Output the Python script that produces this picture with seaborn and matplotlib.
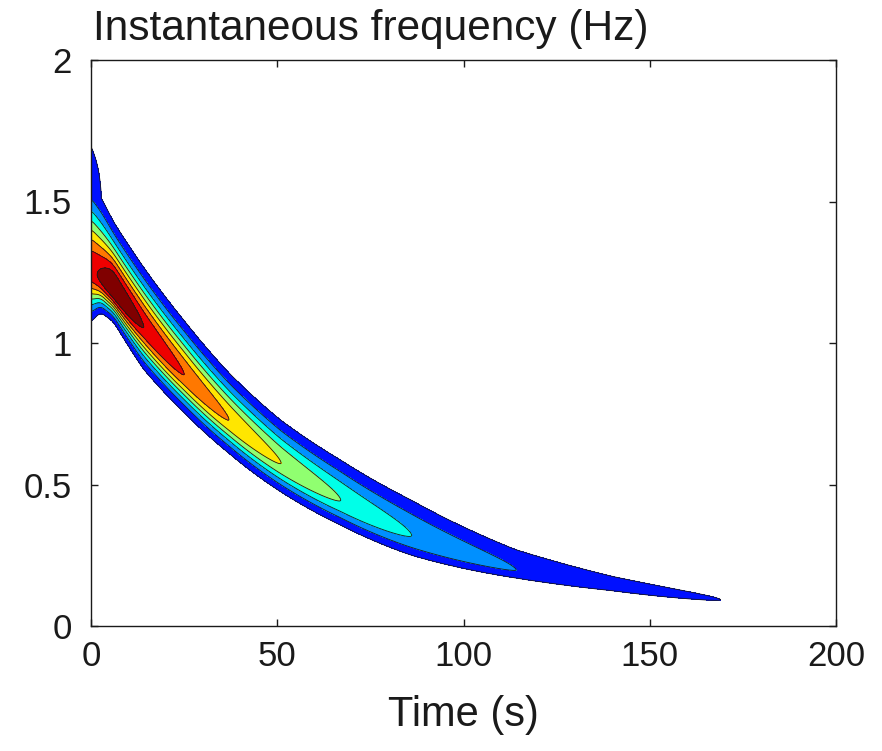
import numpy as np
import matplotlib
matplotlib.use("Agg")
import matplotlib.pyplot as plt
import seaborn as sns

# ridge of the time-frequency map
ridge_time = [0, 2.5, 6, 14, 25, 37, 51, 67, 86, 114, 140, 169, 200]
ridge_freq = [1.26, 1.23, 1.19, 1.06, 0.89, 0.73, 0.576, 0.445, 0.32, 0.198, 0.14, 0.092, 0.075]
ridge_amp = [7.7, 8.15, 9.4, 8.0, 7.0, 6.0, 5.0, 4.0, 3.0, 2.0, 1.5, 1.0, 0.5]
# gaussian spread (Hz) above / below the ridge
width_up = [0.153, 0.141, 0.113, 0.103, 0.096, 0.087, 0.084, 0.085, 0.084, 0.061, 0.039, 0.03, 0.03]
width_down = [0.092, 0.059, 0.054, 0.074, 0.069, 0.063, 0.057, 0.053, 0.047, 0.024, 0.017, 0.015, 0.015]

# small edge lobe at the start of the record
lobe_time = [0, 2.5, 5, 8]
lobe_amp = [1.6, 1.05, 0.6, 0.0]
lobe_freq = 1.5
lobe_width = 0.2

levels = [1, 2, 3, 4, 5, 6, 7, 8]
band_colors = ["#0010ff", "#0090ff", "#00ffe8", "#90ff70",
               "#ffe600", "#ff7800", "#ee0000", "#800000"]


def smooth(y, n=11):
    # light moving average so the knots don't leave kinks
    pad = np.pad(y, n, mode="edge")
    k = np.ones(n) / n
    return np.convolve(pad, k, mode="same")[n:-n]


#%%
# build the field on a grid
t = np.linspace(0, 200, 1001)
f = np.linspace(0, 2, 1001)
T, F = np.meshgrid(t, f)

fc = np.exp(smooth(np.interp(t, ridge_time, np.log(ridge_freq))))
amp = smooth(np.interp(t, ridge_time, ridge_amp))
wu = smooth(np.interp(t, ridge_time, width_up))
wd = smooth(np.interp(t, ridge_time, width_down))

d = F - fc[None, :]
w = np.where(d > 0, wu[None, :], wd[None, :])
Z = amp[None, :] * np.exp(-0.5 * (d / w) ** 2)

la = np.interp(t, lobe_time, lobe_amp)
Zl = la[None, :] * np.exp(-0.5 * ((F - lobe_freq) / lobe_width) ** 2)
Z = np.maximum(Z, Zl)

#%%
sns.set_theme(style="ticks")
plt.rcParams['font.family'] = ['Liberation Sans', 'DejaVu Sans']
plt.rcParams['text.color'] = 'k'
plt.rcParams['axes.labelcolor'] = 'k'

fig = plt.figure(figsize=(8.82, 7.51), dpi=100)
ax = fig.add_axes([91 / 882, 1 - 626 / 751, 745 / 882, 566 / 751])

ax.contourf(T, F, Z, levels=levels + [20], colors=band_colors)
ax.contour(T, F, Z, levels=levels, colors="k", linewidths=0.6)

ax.set_xlim(0, 200)
ax.set_ylim(0, 2)
ax.set_xticks([0, 50, 100, 150, 200])
ax.set_yticks([0, 0.5, 1, 1.5, 2])
ax.set_yticklabels(["0", "0.5", "1", "1.5", "2"])
ax.tick_params(direction="in", length=5, width=1, top=True, right=True,
               labelsize=25, colors="k", labelcolor="k")
ax.tick_params(axis="x", pad=10)
ax.tick_params(axis="y", pad=14)
for s in ax.spines.values():
    s.set_color("k")
    s.set_linewidth(1)

ax.set_xlabel("Time (s)", fontsize=30, labelpad=16, color="k")
fig.text(93 / 882, 1 - 40 / 751, "Instantaneous frequency (Hz)",
         fontsize=30.5, ha="left", va="baseline", color="k")

plt.savefig("out.png", dpi=100, facecolor="white")
